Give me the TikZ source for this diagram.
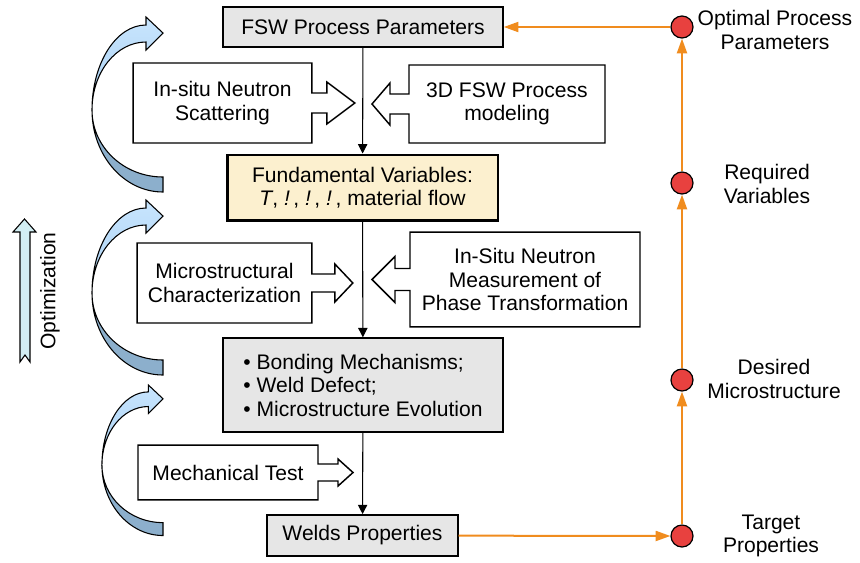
\documentclass[tikz,border=0pt]{standalone}
\usepackage{fontspec}
\setmainfont{Liberation Sans}
\usetikzlibrary{arrows.meta, calc, shapes}
\definecolor{boxgray}{HTML}{E6E6E6}
\definecolor{varfill}{HTML}{FCF0CF}
\definecolor{feedorange}{HTML}{F08C1E}
\definecolor{dotred}{HTML}{E8413F}
\definecolor{bandtop}{HTML}{C8E5FE}
\definecolor{bandfront}{HTML}{A9D0F2}
\definecolor{bandback}{HTML}{8CAFCC}
\definecolor{optfill}{HTML}{D2EEF3}

% box with a block arrow on its right / left side
% #1 node, #2 shaft half height, #3 shaft length, #4 head half height, #5 head length
\newcommand{\calloutright}[5]{%
  \draw[outline] (#1.north west) -- (#1.north east) -- ($(#1.east)+(0,-#2)$) -- ++(#3,0)
    -- ++(0,#2-#4) -- ($(#1.east)+(#3+#5,0)$) -- ($(#1.east)+(#3,#4)$) -- ++(0,#2-#4)
    -- ($(#1.east)+(0,#2)$) -- (#1.south east) -- (#1.south west) -- cycle;}
\newcommand{\calloutleft}[5]{%
  \draw[outline] (#1.north east) -- (#1.north west) -- ($(#1.west)+(0,-#2)$) -- ++(-#3,0)
    -- ++(0,#2-#4) -- ($(#1.west)+(-#3-#5,0)$) -- ($(#1.west)+(-#3,#4)$) -- ++(0,#2-#4)
    -- ($(#1.west)+(0,#2)$) -- (#1.south west) -- (#1.south east) -- cycle;}

\begin{document}
\begin{tikzpicture}[x=0.75pt, y=-0.75pt,
  font=\fontsize{15.8}{17.6}\selectfont,
  box/.style={rectangle, draw, line width=1.1pt, fill=boxgray, align=center, inner sep=0pt},
  callbox/.style={rectangle, align=center, inner sep=0pt, outer sep=0pt},
  outline/.style={draw, line width=1.1pt, line join=miter},
  flow/.style={-{Triangle[width=7pt,length=7pt]}, line width=0.8pt},
  feedback/.style={-{Triangle[width=7.5pt,length=11pt]}, line width=1.5pt, draw=feedorange, fill=feedorange},
  dot/.style={circle, draw, fill=dotred, line width=0.9pt, minimum size=16.5pt, inner sep=0pt},
  tag/.style={align=center},
  bendarrow/.pic={
    \filldraw[fill=bandback, line width=0.8pt]
      (0,82) arc[start angle=90, end angle=180, x radius=71, y radius=82]
      arc[start angle=180, end angle=90, x radius=71, y radius=67] -- cycle;
    \shade[top color=bandtop, bottom color=bandfront, draw, line width=0.8pt]
      (-71,0) arc[start angle=180, end angle=270, x radius=54, y radius=85]
      -- (-17,-93) -- (0,-77) -- (-17,-60) -- (-17,-68)
      arc[start angle=270, end angle=180, x radius=54, y radius=68] -- cycle;
  }
]
\useasboundingbox (0,0) rectangle (860,562);

% process parameters
\node[box, minimum width=210pt, minimum height=30pt] (fsw) at (363,27) {FSW Process Parameters};

% inputs for the variables
\node[callbox, minimum width=134pt, minimum height=60pt] (insitu) at (222.5,103) {In-situ Neutron\\Scattering};
\node[callbox, minimum width=147pt, minimum height=58.5pt] (model) at (507,104) {3D FSW Process\\modeling};
\calloutright{insitu}{10}{15}{21}{28}
\calloutleft{model}{10}{19}{21}{18}

% variables
\node[box, fill=varfill, line width=2pt, minimum width=203pt, minimum height=49pt] (fund) at (362.5,187.5)
  {Fundamental Variables:\\\textit{T}, \textit{!}\,, \textit{!}\,, \textit{!}\,, material flow};

% inputs for the microstructure
\node[callbox, minimum width=131pt, minimum height=60pt] (micro) at (224.5,283) {Microstructural\\Characterization};
\node[callbox, minimum width=172.5pt, minimum height=71pt] (phase) at (525,279.5) {In-Situ Neutron\\Measurement of\\Phase Transformation};
\calloutright{micro}{9}{23}{19}{18}
\calloutleft{phase}{11}{15}{23}{23}

% microstructure
\node[box, align=left, minimum width=210pt, minimum height=70.5pt] (bond) at (363,385)
  {\textbullet\ Bonding Mechanisms;\\\textbullet\ Weld Defect;\\\textbullet\ Microstructure Evolution};

% testing and properties
\node[callbox, minimum width=135pt, minimum height=41pt] (mech) at (228,472.5) {Mechanical Test};
\calloutright{mech}{8.5}{20}{13.5}{15}
\node[box, minimum width=143pt, minimum height=31pt] (weld) at (362.5,535.5) {Welds Properties};

% design chain
\node[dot] (opt) at (682,27) {};
\node[dot] (req) at (682,183) {};
\node[dot] (des) at (682,380) {};
\node[dot] (tgt) at (682,536) {};
\node[tag] (optlab) at (775,30) {Optimal Process\\Parameters};
\node[tag] (reqlab) at (767,184) {Required\\Variables};
\node[tag] (deslab) at (774,379) {Desired\\Microstructure};
\node[tag] (tgtlab) at (771,536) {Target\\Properties};

% loops on the left
\pic at (163,110) {bendarrow};
\pic at (163,293) {bendarrow};
\pic[scale=0.86] at (163,465) {bendarrow};

% optimization
\filldraw[fill=optfill, line width=0.8pt] (13,232) -- (24.5,219) -- (36,232) -- (30,232) -- (30,362)
  -- (25,355) -- (20,362) -- (20,232) -- cycle;
\node[rotate=90] (optim) at (50,291) {Optimization};

% Arrows
\draw[flow] (fsw) -- (fund);
\draw[flow] (fund) -- (bond);
\draw[flow] (bond) -- (weld);
\draw[feedback] (weld) -- (tgt);
\draw[feedback] (tgt) -- (des);
\draw[feedback] (des) -- (req);
\draw[feedback] (req) -- (opt);
\draw[feedback] (opt) -- (fsw);

\end{tikzpicture}
\end{document}
